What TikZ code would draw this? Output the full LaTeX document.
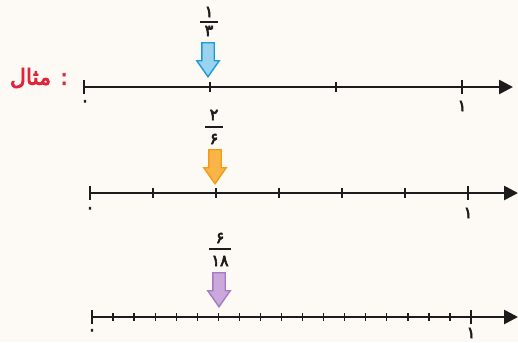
\documentclass[tikz,border=0pt]{standalone}
\usepackage{fontspec}
\usetikzlibrary{arrows.meta,shapes.arrows}
\newfontfamily\fafont[Script=Arabic,FakeBold=4]{DejaVu Sans}
\TeXXeTstate=1
\definecolor{paper}{HTML}{FDFAF5}
\definecolor{examplered}{HTML}{E3233A}
\definecolor{blueedge}{HTML}{1E9BD7}
\definecolor{bluefill}{HTML}{9AD3F0}
\definecolor{orangeedge}{HTML}{F59B16}
\definecolor{orangefill}{HTML}{F9B548}
\definecolor{purpleedge}{HTML}{A57AC3}
\definecolor{purplefill}{HTML}{CBA8DC}
\definecolor{ink}{HTML}{1C1C1C}

\begin{document}
\begin{tikzpicture}[x=1pt,y=-1pt,
  axisline/.style={ink,line width=2.6pt,-{Triangle[length=14pt,width=14pt]}},
  tickmark/.style={ink,line width=1.3pt},
  endmark/.style={ink,line width=2.4pt},
  digit/.style={ink,font=\fafont\fontsize{16}{16}\selectfont,inner sep=0pt},
  fracbar/.style={ink,line width=1.8pt},
  pointer/.style={single arrow,rotate=-90,anchor=tip,minimum height=34pt,
    inner xsep=0pt,inner ysep=5.5pt,single arrow head extend=5pt,
    single arrow tip angle=70,line width=1.4pt}]
  \fill[paper] (0,0) rectangle (518,342);
  \useasboundingbox (0,0) rectangle (518,342);

  % example label
  \node[font=\fafont\fontsize{22}{22}\selectfont,text=examplered,
    anchor=east,inner sep=0pt] (ex) at (68,78) {\beginR : مثال\endR};

  % line 1: thirds
  \coordinate (a0) at (84,87);
  \coordinate (a1) at (513,87);
  \draw[axisline] (a0) -- (a1);
  \draw[endmark] (84,80) -- (84,94);
  \foreach \k in {1,2}
    \draw[tickmark] (84+126*\k,82.5) -- (84+126*\k,91.5);
  \draw[endmark,line width=1.8pt] (462,80) -- (462,94);
  \node[digit] (z1) at (85,103) {۰};
  \node[digit] (o1) at (462,106) {۱};
  \node[digit] (n1) at (209,12) {۱};
  \node[digit] (d1) at (209,31) {۳};
  \draw[fracbar] (200,22) -- (218,22);
  \node[pointer,draw=blueedge,fill=bluefill] (p1) at (208,78) {};

  % line 2: sixths
  \coordinate (b0) at (90,193);
  \coordinate (b1) at (518,193);
  \draw[axisline] (b0) -- (b1);
  \draw[endmark] (90,186) -- (90,200);
  \foreach \k in {1,...,5}
    \draw[tickmark] (90+63*\k,188) -- (90+63*\k,198);
  \draw[endmark,line width=1.8pt] (468,186) -- (468,200);
  \node[digit] (z2) at (90,210) {۰};
  \node[digit] (o2) at (468,213) {۱};
  \node[digit] (n2) at (214,115) {۲};
  \node[digit] (d2) at (214,139) {۶};
  \draw[fracbar] (205,127) -- (223,127);
  \node[pointer,draw=orangeedge,fill=orangefill] (p2) at (215,185) {};

  % line 3: eighteenths
  \coordinate (c0) at (92,317);
  \coordinate (c1) at (518,317);
  \draw[axisline] (c0) -- (c1);
  \draw[endmark] (92,310) -- (92,324);
  \foreach \k in {1,...,17}
    \draw[tickmark] (92+21.06*\k,313) -- (92+21.06*\k,321);
  \draw[endmark,line width=1.8pt] (471,310) -- (471,324);
  \node[digit] (z3) at (92,332) {۰};
  \node[digit] (o3) at (471,333) {۱};
  \node[digit] (n3) at (220,238) {۶};
  \node[digit] (d3) at (220,261) {۱۸};
  \draw[fracbar] (209,249) -- (231,249);
  \node[pointer,draw=purpleedge,fill=purplefill] (p3) at (219,308) {};
\end{tikzpicture}
\end{document}
